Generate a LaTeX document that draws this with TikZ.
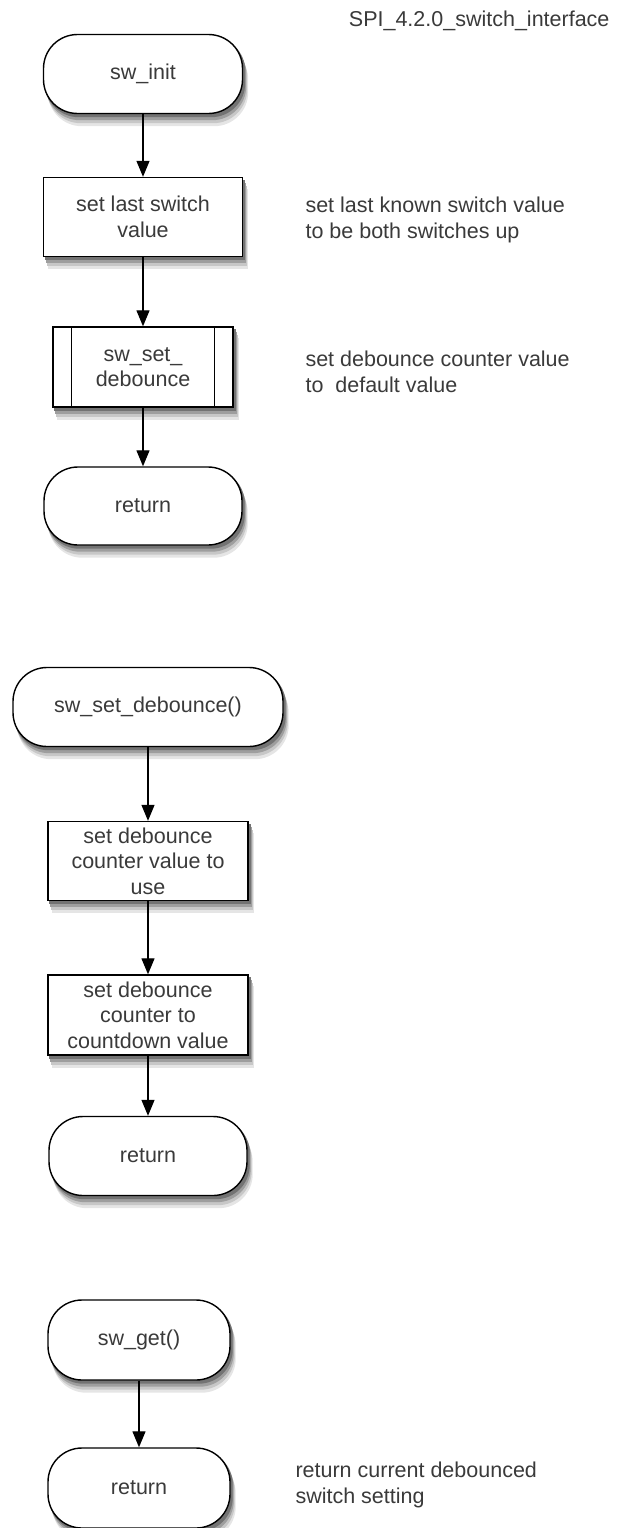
\documentclass[tikz,border=0pt]{standalone}
\usepackage{fontspec}
\setmainfont{Liberation Sans}
\usetikzlibrary{arrows.meta}

\definecolor{txtgray}{HTML}{3A3A3A}

\pgfdeclarelayer{background}
\pgfsetlayers{background,main}

\tikzset{
  flowbox/.style={draw=black, line width=1.4pt, fill=white, text=txtgray,
    align=center, inner sep=0pt, font=\fontsize{21.5}{25.5}\selectfont},
  terminal/.style={flowbox, rounded corners=34pt},
  process/.style={flowbox},
  note/.style={anchor=west, align=left, text=txtgray, font=\fontsize{21.5}{26}\selectfont},
  flowarrow/.style={draw=black, line width=1.3pt, -{Triangle[width=13pt,length=16pt]}}
}

% soft shadow under a node: #1 node name, #2 corner radius
\newcommand{\dropshade}[2]{%
  \begin{pgfonlayer}{background}
    \fill[black!10, rounded corners=#2] ([xshift=5pt,yshift=-12pt]#1.south west) rectangle ([xshift=5pt,yshift=-12pt]#1.north east);
    \fill[black!22, rounded corners=#2] ([xshift=4pt,yshift=-9pt]#1.south west) rectangle ([xshift=4pt,yshift=-9pt]#1.north east);
    \fill[black!38, rounded corners=#2] ([xshift=3pt,yshift=-6pt]#1.south west) rectangle ([xshift=3pt,yshift=-6pt]#1.north east);
    \fill[black!55, rounded corners=#2] ([xshift=2pt,yshift=-3pt]#1.south west) rectangle ([xshift=2pt,yshift=-3pt]#1.north east);
  \end{pgfonlayer}}

\begin{document}
\begin{tikzpicture}[x=1pt,y=-1pt]
\useasboundingbox (0,0) rectangle (618,1528);

\node[anchor=base east, text=txtgray, font=\fontsize{21.5}{26}\selectfont] (title) at (613,27) {SPI\_4.2.0\_switch\_interface};

% sw_init
\node[terminal, minimum width=199pt, minimum height=79pt] (init) at (143,74) {sw\_init};
\node[process, minimum width=199pt, minimum height=79pt] (lastsw) at (143,217) {set last switch\\value};
\node[process, minimum width=180pt, minimum height=80pt] (setdeb) at (143,367) {sw\_set\_\\debounce};
\draw[line width=1.4pt] ([xshift=19pt]setdeb.north west) -- ([xshift=19pt]setdeb.south west);
\draw[line width=1.4pt] ([xshift=-19pt]setdeb.north east) -- ([xshift=-19pt]setdeb.south east);
\node[terminal, minimum width=198pt, minimum height=78pt] (ret1) at (143,506) {return};

\node[note] (n1) at (302,220) {set last known switch value\\to be both switches up};
\node[note] (n2) at (302,372) {set debounce counter value\\to\ \ default value};

\draw[flowarrow] (init) -- (lastsw);
\draw[flowarrow] (lastsw) -- (setdeb);
\draw[flowarrow] (setdeb) -- (ret1);

% sw_set_debounce()
\node[terminal, minimum width=270pt, minimum height=79pt] (setdebfn) at (148,707) {sw\_set\_debounce()};
\node[process, minimum width=200pt, minimum height=79pt] (cntval) at (148,861) {set debounce\\counter value to\\use};
\node[process, minimum width=200pt, minimum height=80pt] (cntdown) at (148,1015) {set debounce\\counter to\\countdown value};
\node[terminal, minimum width=198pt, minimum height=79pt] (ret2) at (148,1156) {return};

\draw[flowarrow] (setdebfn) -- (cntval);
\draw[flowarrow] (cntval) -- (cntdown);
\draw[flowarrow] (cntdown) -- (ret2);

% sw_get()
\node[terminal, minimum width=182pt, minimum height=80pt] (get) at (139,1340) {sw\_get()};
\node[terminal, minimum width=182pt, minimum height=80pt] (ret3) at (139,1488) {return};
\node[note] (n3) at (292,1485) {return current debounced\\switch setting};

\draw[flowarrow] (get) -- (ret3);

% shadows
\dropshade{init}{34pt}
\dropshade{ret1}{34pt}
\dropshade{setdebfn}{34pt}
\dropshade{ret2}{34pt}
\dropshade{get}{34pt}
\dropshade{ret3}{34pt}
\dropshade{lastsw}{0pt}
\dropshade{setdeb}{0pt}
\dropshade{cntval}{0pt}
\dropshade{cntdown}{0pt}
\end{tikzpicture}
\end{document}
